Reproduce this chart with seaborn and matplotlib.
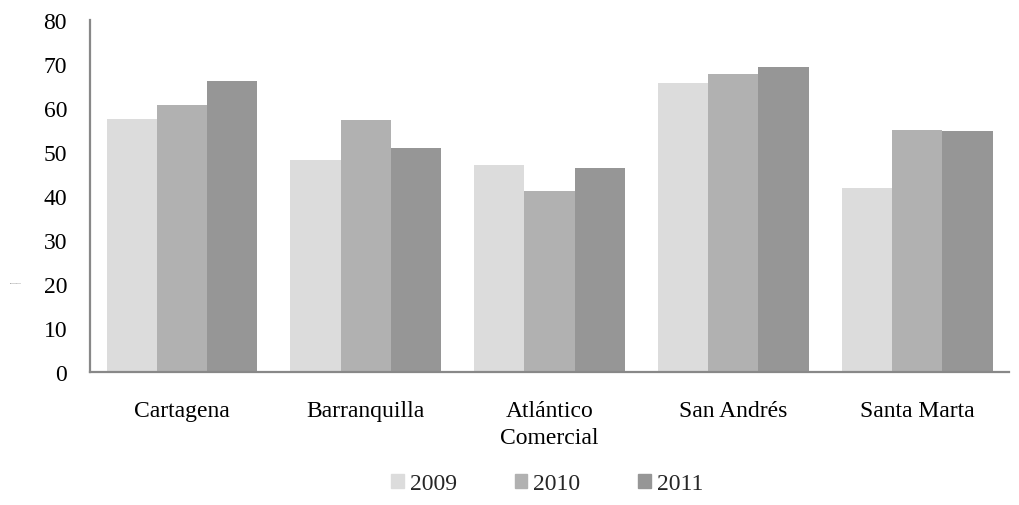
import numpy as np
import pandas as pd
import matplotlib
matplotlib.use('Agg')
import matplotlib.pyplot as plt
import seaborn as sns

# values
cities = ['Cartagena', 'Barranquilla', 'Atlántico\nComercial', 'San Andrés', 'Santa Marta']
years = ['2009', '2010', '2011']
v2009 = [57.6, 48.1, 47.0, 65.8, 41.8]
v2010 = [60.8, 57.3, 41.2, 67.8, 55.0]
v2011 = [66.2, 50.9, 46.5, 69.3, 54.8]
colors = ['#dcdcdc', '#b1b1b1', '#969696']

df = pd.DataFrame({
    'city': cities * 3,
    'year': [y for y in years for _ in cities],
    'value': v2009 + v2010 + v2011,
})

sns.set_theme(style='white')
plt.rcParams['font.family'] = ['Liberation Serif', 'DejaVu Serif']

fig = plt.figure(figsize=(10.19, 5.06), dpi=100)
ax = fig.add_axes([0.0883, 0.263, 0.902, 0.695])

sns.barplot(data=df, x='city', y='value', hue='year', order=cities, hue_order=years,
            palette=colors, width=0.82, gap=0, linewidth=0, saturation=1, ax=ax)

ax.set_ylim(0, 80)
ax.set_yticks(range(0, 81, 10))
ax.set_xlim(-0.5, 4.5)
ax.set_xlabel('')
ax.set_ylabel('')
ax.tick_params(axis='both', length=0, labelsize=17, colors='black')
ax.tick_params(axis='x', pad=20)
ax.tick_params(axis='y', pad=16.5)
for lab in ax.get_xticklabels():
    lab.set_linespacing(1.4)

for side in ['top', 'right']:
    ax.spines[side].set_visible(False)
for side in ['left', 'bottom']:
    ax.spines[side].set_color('#888888')
    ax.spines[side].set_linewidth(1.6)

ax.legend_.remove()
handles = [plt.Rectangle((0, 0), 1, 1, color=c) for c in colors]
fig.legend(handles, years, loc='center', bbox_to_anchor=(0.537, 0.042), ncol=3,
           frameon=False, fontsize=17, handlelength=0.55, handleheight=0.55,
           handletextpad=0.25, columnspacing=2.45)

# tiny, barely legible axis caption at the far left
fig.text(0.01, 0.44, 'Participación', fontsize=1.5, color='#555555', va='center')

fig.savefig('out.png', dpi=100)
